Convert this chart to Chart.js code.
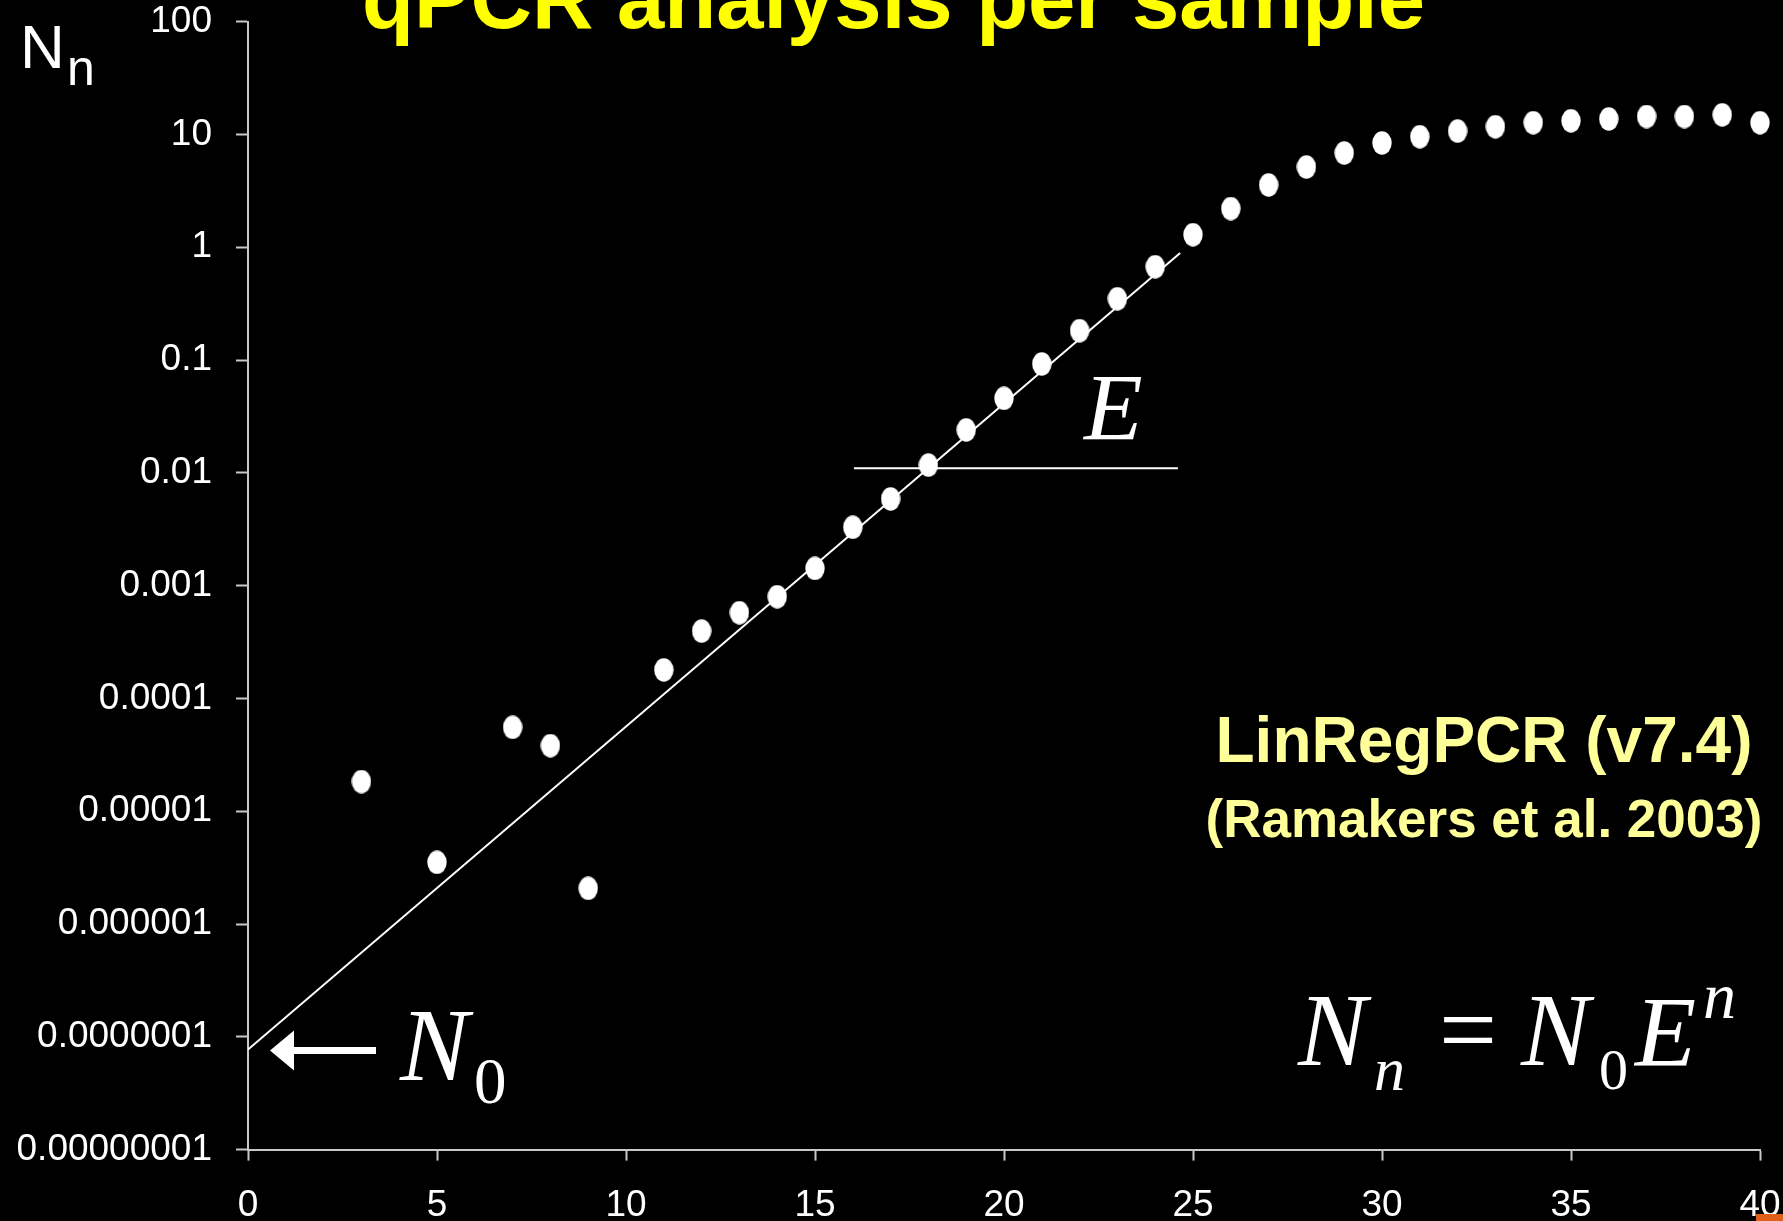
<!DOCTYPE html>
<html><head><meta charset="utf-8">
<script src="https://cdn.jsdelivr.net/npm/chart.js@4.4.1/dist/chart.umd.min.js"></script>
<style>html,body{margin:0;padding:0;background:#000;overflow:hidden}canvas{display:block}</style>
</head><body>
<canvas id="c" width="1783" height="1221"></canvas>
<script>
// ---- data ----
const cycles = [3,5,7,8,9,11,12,13,14,15,16,17,18,19,20,21,22,23,24,25,26,27,28,29,30,31,32,33,34,35,36,37,38,39,40];
const fluorescence = [1.83e-5,3.52e-6,5.54e-5,3.81e-5,2.07e-6,1.79e-4,3.95e-4,5.75e-4,7.97e-4,1.42e-3,3.29e-3,5.86e-3,1.17e-2,2.40e-2,4.57e-2,9.22e-2,0.182,0.349,0.671,1.29,2.20,3.56,5.14,6.84,8.39,9.54,10.7,11.7,12.7,13.2,13.7,14.4,14.4,14.9,12.7];
const fitCycles = [0, 24.66];
const fitValues = [7.7e-8, 0.89];
const eCycles = [16.03, 24.6];
const eValues = [0.011, 0.011];
const xTickValues = [0,5,10,15,20,25,30,35,40];
const yTickValues = [1e-8,1e-7,1e-6,1e-5,1e-4,1e-3,1e-2,1e-1,1,10,100];
const yTickLabels = ['0.00000001','0.0000001','0.000001','0.00001','0.0001','0.001','0.01','0.1','1','10','100'];
const titleText = 'qPCR analysis per sample';
const yAxisTitle = ['N','n'];
const softwareLine1 = 'LinRegPCR (v7.4)';
const softwareLine2 = '(Ramakers et al. 2003)';

// ---- helpers ----
function ellipseDot(w,h){
  const c=document.createElement('canvas');c.width=w;c.height=h;
  const g=c.getContext('2d');g.fillStyle='#fff';g.beginPath();
  g.ellipse(w/2,h/2,w/2-0.3,h/2-0.3,0,0,Math.PI*2);g.fill();return c;
}
const dot = ellipseDot(20,24);
const SANS='"Liberation Sans", Arial, sans-serif';
const SERIF='"Liberation Serif", "Times New Roman", serif';

const deco = {
  id:'deco',
  beforeDraw(chart){
    const ctx=chart.ctx; ctx.save(); ctx.fillStyle='#000'; ctx.fillRect(0,0,chart.width,chart.height); ctx.restore();
  },
  afterDraw(chart){
    const ctx=chart.ctx, xs=chart.scales.x, ys=chart.scales.y;
    ctx.save();
    ctx.textAlign='left'; ctx.textBaseline='alphabetic';
    // title (clipped at top)
    ctx.fillStyle='#ffff00'; ctx.font='bold 85px '+SANS;
    ctx.fillText(titleText, 362, 28);
    // axis title N_n
    ctx.fillStyle='#fff';
    ctx.font='62px '+SANS; ctx.fillText(yAxisTitle[0], 20, 68);
    ctx.font='50px '+SANS; ctx.fillText(yAxisTitle[1], 67, 85);
    // E label
    ctx.font='italic 96px '+SERIF; ctx.fillText('E', 1084, 440);
    // arrow to N0
    const ax = xs.getPixelForValue(fitCycles[0]) + 22;
    const ay = ys.getPixelForValue(fitValues[0]) + 1;
    ctx.beginPath();
    ctx.moveTo(ax, ay); ctx.lineTo(ax+24, ay-20); ctx.lineTo(ax+24, ay-3.5);
    ctx.lineTo(ax+106, ay-3.5); ctx.lineTo(ax+106, ay+3.5); ctx.lineTo(ax+24, ay+3.5);
    ctx.lineTo(ax+24, ay+20); ctx.closePath(); ctx.fill();
    // N0 label
    ctx.font='italic 103px '+SERIF; ctx.fillText('N', 400, 1080);
    ctx.font='65px '+SERIF; ctx.fillText('0', 474, 1103);
    // formula N_n = N_0 E^n
    ctx.font='italic 103px '+SERIF; ctx.fillText('N', 1298, 1065);
    ctx.font='italic 62px '+SERIF; ctx.fillText('n', 1374, 1090);
    ctx.font='103px '+SERIF; ctx.fillText('=', 1439, 1065);
    ctx.font='italic 103px '+SERIF; ctx.fillText('N', 1521, 1065);
    ctx.font='58px '+SERIF; ctx.fillText('0', 1599, 1089);
    ctx.font='italic 100px '+SERIF; ctx.fillText('E', 1635, 1065);
    ctx.font='italic 66px '+SERIF; ctx.fillText('n', 1703, 1018);
    // software reference
    ctx.fillStyle='#ffff99'; ctx.textAlign='center';
    ctx.font='bold 64px '+SANS; ctx.fillText(softwareLine1, 1484, 762);
    ctx.font='bold 53px '+SANS; ctx.fillText(softwareLine2, 1484, 837);
    // small orange corner mark
    ctx.fillStyle='#e0601a'; ctx.fillRect(1756,1214,27,7);
    ctx.restore();
  }
};

const tickFont = {family:SANS, size:37};
new Chart(document.getElementById('c'), {
  type:'scatter',
  data:{datasets:[
    {label:'fit', data:fitCycles.map((x,i)=>({x,y:fitValues[i]})), showLine:true, borderColor:'#fff', borderWidth:2, pointRadius:0, order:2},
    {label:'E', data:eCycles.map((x,i)=>({x,y:eValues[i]})), showLine:true, borderColor:'#fff', borderWidth:2, pointRadius:0, order:3},
    {label:'Nn', data:cycles.map((x,i)=>({x,y:fluorescence[i]})), pointStyle:dot, pointRadius:10, backgroundColor:'#fff', borderColor:'#fff', clip:false, order:1}
  ]},
  options:{
    responsive:false, animation:false, devicePixelRatio:1,
    layout:{padding:{top:21.6, right:23, left:0, bottom:0}},
    plugins:{legend:{display:false}, tooltip:{enabled:false}, title:{display:false}},
    scales:{
      x:{type:'linear', min:0, max:40,
        afterBuildTicks(s){ s.ticks = xTickValues.map(v=>({value:v})); },
        ticks:{color:'#fff', font:tickFont, padding:23, maxRotation:0, autoSkip:false},
        grid:{drawOnChartArea:false, drawTicks:true, tickLength:11, tickColor:'#c8c8c8', tickWidth:2},
        border:{color:'#c8c8c8', width:2},
        afterFit(s){ s.height = 71.4; s.paddingLeft = 0; s.paddingRight = 0; }
      },
      y:{type:'logarithmic', min:1e-8, max:100,
        afterBuildTicks(s){ s.ticks = yTickValues.map(v=>({value:v})); },
        ticks:{color:'#fff', font:tickFont, padding:24, autoSkip:false,
          callback(v){ const i = yTickValues.findIndex(t=>Math.abs(Math.log10(t)-Math.log10(v))<1e-6); return i>=0? yTickLabels[i] : ''; }},
        grid:{drawOnChartArea:false, drawTicks:true, tickLength:12, tickColor:'#c8c8c8', tickWidth:2},
        border:{color:'#c8c8c8', width:2},
        afterFit(s){ s.width = 248; s.paddingTop = 0; s.paddingBottom = 0; }
      }
    }
  },
  plugins:[deco]
});
</script>
</body></html>
